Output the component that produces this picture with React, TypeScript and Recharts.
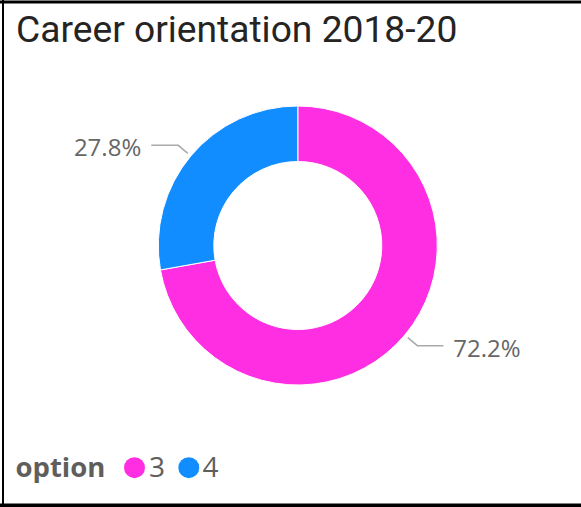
import { PieChart, Pie, Cell, Legend } from "recharts"

const title = "Career orientation 2018-20"
const legendTitle = "option"
const options = ["3", "4"]
const shares = [72.2, 27.8]
const colors = ["#FF2EE2", "#118DFF"]

const data = options.map((name, i) => ({ name, value: shares[i] }))

const RADIAN = Math.PI / 180
const labelFont = "'Open Sans', 'Noto Sans', sans-serif"

function renderLabel(props: any) {
  const { cx, cy, midAngle, outerRadius, percent } = props
  const cos = Math.cos(-midAngle * RADIAN)
  const sin = Math.sin(-midAngle * RADIAN)
  const sx = cx + (outerRadius + 4) * cos
  const sy = cy + (outerRadius + 4) * sin
  const mx = cx + (outerRadius + 16.5) * cos
  const my = cy + (outerRadius + 16.5) * sin
  const right = cos >= 0
  const ex = mx + (right ? 26 : -27)
  const tx = ex + (right ? 10 : -10)
  return (
    <g>
      <polyline
        points={`${sx},${sy} ${mx},${my} ${ex},${my}`}
        fill="none"
        stroke="#AAAAAA"
        strokeWidth={1.5}
      />
      <text
        x={tx}
        y={my + 11}
        textAnchor={right ? "start" : "end"}
        fill="#666666"
        fontSize={24}
        fontFamily={labelFont}
      >
        {(percent * 100).toFixed(1)}%
      </text>
    </g>
  )
}

// legend slots: circle centre and text start, left to right
const legendCircleX = [134.5, 188.8]
const legendTextX = [149, 202.5]

function LegendContent() {
  return (
    <svg width={260} height={50}>
      <text
        x={15.5}
        y={36.7}
        fill="#605E5C"
        fontSize={27.5}
        fontWeight="bold"
        fontFamily={labelFont}
      >
        {legendTitle}
      </text>
      {options.map((opt, i) => (
        <g key={opt}>
          <circle cx={legendCircleX[i]} cy={27.7} r={10.5} fill={colors[i]} />
          <text
            x={legendTextX[i]}
            y={36.7}
            fill="#605E5C"
            fontSize={28}
            fontFamily={labelFont}
          >
            {opt}
          </text>
        </g>
      ))}
    </svg>
  )
}

export default function App() {
  return (
    <div style={{ position: "relative", width: 581, height: 507, background: "#fff" }}>
      <style>{`body { margin: 0; }`}</style>
      <PieChart
        width={581}
        height={507}
        margin={{ top: 0, right: 0, bottom: 0, left: 0 }}
        style={{ position: "absolute", left: 0, top: 0 }}
      >
        <Pie
          data={data}
          dataKey="value"
          nameKey="name"
          cx={297.8}
          cy={245.5}
          innerRadius={84}
          outerRadius={139.5}
          startAngle={90}
          endAngle={-270}
          label={renderLabel}
          labelLine={false}
          isAnimationActive={false}
        >
          {data.map((d, i) => (
            <Cell key={d.name} fill={colors[i]} />
          ))}
        </Pie>
        <Legend
          content={<LegendContent />}
          wrapperStyle={{ position: "absolute", left: 0, top: 440, width: 260, height: 50 }}
        />
      </PieChart>
      <svg
        width={581}
        height={507}
        style={{ position: "absolute", left: 0, top: 0, pointerEvents: "none" }}
      >
        <rect x={0} y={0.5} width={581} height={3} fill="#000" />
        <rect x={2} y={0} width={2} height={507} fill="#000" />
        <rect x={0} y={503.5} width={581} height={3.5} fill="#000" />
        <text
          x={16}
          y={41.5}
          fill="#252423"
          fontSize={37.2}
          fontFamily="Roboto, sans-serif"
        >
          {title}
        </text>
      </svg>
    </div>
  )
}
